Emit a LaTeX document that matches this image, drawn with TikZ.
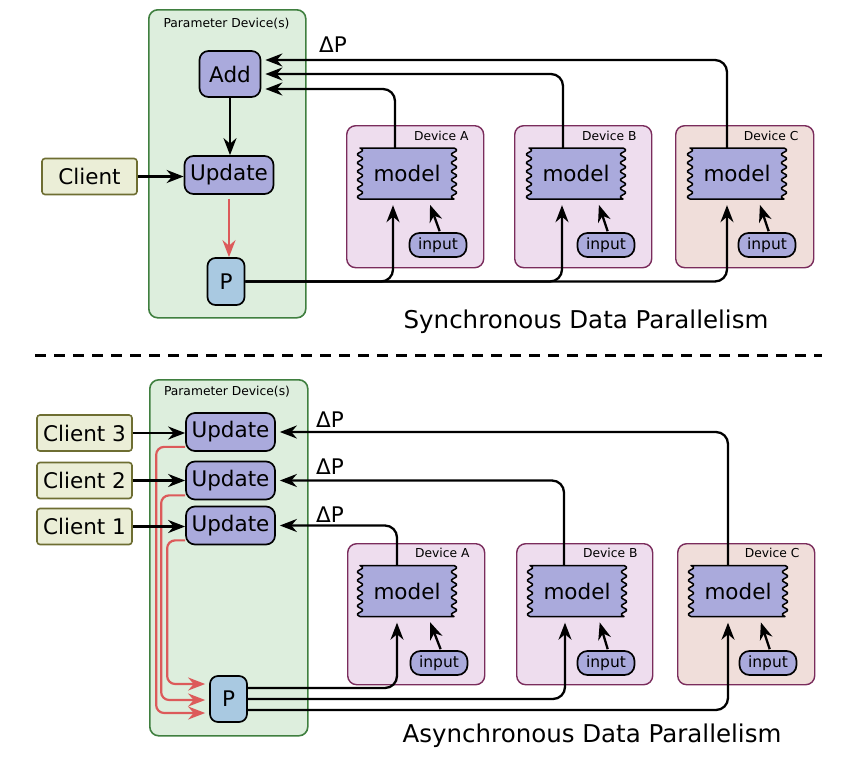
\documentclass[tikz,border=0pt]{standalone}
\usepackage{fontspec}
\setmainfont{DejaVu Sans}
\usetikzlibrary{arrows.meta,calc}
\definecolor{pdfill}{HTML}{DDEEDD}
\definecolor{pddraw}{HTML}{3F7F3F}
\definecolor{lavc}{HTML}{AAAADC}
\definecolor{pfill}{HTML}{A9C9E1}
\definecolor{clfill}{HTML}{EBEED7}
\definecolor{cldraw}{HTML}{6E6E32}
\definecolor{devab}{HTML}{EEDDEE}
\definecolor{devc}{HTML}{F0DEDA}
\definecolor{devdraw}{HTML}{7A2C5C}
\definecolor{redc}{HTML}{DC5A5A}
\newcommand\modelshape[2]{%
  \path[draw=black,line width=1.5pt,fill=lavc,line join=round]
    ({#1-44},{#2-25.5}) -- ({#1+44},{#2-25.5})
    -- plot[domain=0:51,samples=61,smooth] ({#1+47+2.6*sin(\x/8.5*360)},{#2-25.5+\x})
    -- ({#1-44},{#2+25.5})
    -- plot[domain=51:0,samples=61,smooth] ({#1-47+2.6*sin(\x/8.5*360)},{#2-25.5+\x})
    -- cycle;}
\begin{document}
\begin{tikzpicture}[x=1pt,y=-1pt,
  big/.style={font=\fontsize{21.5}{25}\selectfont},
  small/.style={font=\fontsize{12.3}{14}\selectfont},
  parambox/.style={draw=pddraw,fill=pdfill,line width=1.6pt,rounded corners=9pt,anchor=north west,inner sep=0pt},
  devbox/.style={draw=devdraw,line width=1.4pt,rounded corners=9pt,anchor=north west,inner sep=0pt},
  lav/.style={draw=black,line width=1.7pt,fill=lavc,rounded corners=9pt,inner sep=0pt,big},
  pnode/.style={draw=black,line width=1.7pt,fill=pfill,rounded corners=8pt,inner sep=0pt,big,minimum width=37pt,minimum height=47pt},
  client/.style={draw=cldraw,line width=1.6pt,fill=clfill,rounded corners=3pt,inner sep=0pt,big,minimum width=95pt,minimum height=36pt},
  modeltext/.style={inner sep=0pt,big,minimum width=96pt,minimum height=51pt},
  inputnode/.style={draw=black,line width=1.7pt,fill=lavc,rounded corners=10pt,inner sep=0pt,font=\fontsize{15.5}{18}\selectfont,minimum width=57pt,minimum height=24pt},
  arr/.style={line width=2.3pt,-{Stealth[length=17pt,width=13pt,inset=5.5pt]}},
  conn/.style={arr,rounded corners=12pt},
  redconn/.style={line width=2.2pt,draw=redc,rounded corners=8pt,-{Stealth[length=17pt,width=13pt,inset=5.5pt]}},
]
\useasboundingbox (0,0) rectangle (868,774);

% ================= Synchronous =================
\node[parambox,minimum width=157pt,minimum height=308pt] (pd1) at (148,9) {};
\node[small] (pd1l) at (226.5,24) {Parameter Device(s)};

\node[devbox,fill=devab,minimum width=137pt,minimum height=142pt] (dA1) at (346,125) {};
\node[devbox,fill=devab,minimum width=137pt,minimum height=142pt] (dB1) at (514,125) {};
\node[devbox,fill=devc,minimum width=138pt,minimum height=142pt] (dC1) at (675,125) {};
\node[small,anchor=east] (dA1l) at (472,136) {Device A};
\node[small,anchor=east] (dB1l) at (640,136) {Device B};
\node[small,anchor=east] (dC1l) at (802,136) {Device C};

\modelshape{407}{173.5}
\modelshape{576}{173.5}
\modelshape{737}{173.5}
\node[modeltext] (mA1) at (407,173.5) {model};
\node[modeltext] (mB1) at (576,173.5) {model};
\node[modeltext] (mC1) at (737,173.5) {model};
\node[inputnode] (iA1) at (438,245) {input};
\node[inputnode] (iB1) at (606,245) {input};
\node[inputnode] (iC1) at (767,245) {input};

\node[lav,minimum width=61pt,minimum height=46pt] (add) at (230,74) {Add};
\node[lav,minimum width=89pt,minimum height=38pt] (upd) at (229,175) {Update};
\node[client] (cl) at (89.5,176.5) {Client};
\node[pnode] (P1) at (226,281.5) {P};
\node[big] (dp1) at (333,45) {ΔP};

\draw[arr] (add.south) -- (add.south |- upd.north);
\draw[arr] (cl.east) -- (cl.east -| upd.west);
\draw[redconn,shorten <=4pt] (upd.south) -- (upd.south |- P1.north);

\draw[conn,shorten >=4pt] ([xshift=-10pt]mC1.north) |- ([yshift=14pt]add.east);
\draw[conn,shorten >=4pt] ([xshift=-13pt]mB1.north) |- (add.east);
\draw[conn,shorten >=4pt] ([xshift=-12pt]mA1.north) |- ([yshift=-15pt]add.east);

\draw[conn,shorten >=6pt] (P1.east) -| ([xshift=-14pt]mA1.south);
\draw[conn,shorten >=6pt] (P1.east) -| ([xshift=-14pt]mB1.south);
\draw[conn,shorten >=6pt] (P1.east) -| ([xshift=-10pt]mC1.south);

\draw[arr,shorten >=6pt,shorten <=1pt] ([xshift=2pt]iA1.north) -- ([xshift=21pt]mA1.south);
\draw[arr,shorten >=6pt,shorten <=1pt] ([xshift=2pt]iB1.north) -- ([xshift=21pt]mB1.south);
\draw[arr,shorten >=6pt,shorten <=1pt] ([xshift=2pt]iC1.north) -- ([xshift=21pt]mC1.south);

\node[font=\fontsize{24.5}{28}\selectfont] (t1) at (586,322) {Synchronous Data Parallelism};

% ================= dashed separator =================
\draw[line width=3pt,dash pattern=on 11pt off 8pt] (35,355) -- (822,355);

% ================= Asynchronous =================
\node[parambox,minimum width=158pt,minimum height=356pt] (pd2) at (149,379) {};
\node[small] (pd2l) at (227,392) {Parameter Device(s)};

\node[devbox,fill=devab,minimum width=137pt,minimum height=141pt] (dA2) at (347,543) {};
\node[devbox,fill=devab,minimum width=136pt,minimum height=141pt] (dB2) at (516,543) {};
\node[devbox,fill=devc,minimum width=137pt,minimum height=141pt] (dC2) at (677,543) {};
\node[small,anchor=east] (dA2l) at (473,553) {Device A};
\node[small,anchor=east] (dB2l) at (641,553) {Device B};
\node[small,anchor=east] (dC2l) at (803,553) {Device C};

\modelshape{407}{591}
\modelshape{577}{591}
\modelshape{738}{591}
\node[modeltext] (mA2) at (407,591) {model};
\node[modeltext] (mB2) at (577,591) {model};
\node[modeltext] (mC2) at (738,591) {model};
\node[inputnode] (iA2) at (439,663) {input};
\node[inputnode] (iB2) at (606,663) {input};
\node[inputnode] (iC2) at (768,663) {input};

\node[lav,minimum width=89pt,minimum height=38pt] (u3) at (230.5,432) {Update};
\node[lav,minimum width=89pt,minimum height=38pt] (u2) at (230.5,480.5) {Update};
\node[lav,minimum width=89pt,minimum height=38pt] (u1) at (230.5,525.5) {Update};
\node[client] (c3) at (84.5,433) {Client 3};
\node[client] (c2) at (84.5,480.5) {Client 2};
\node[client] (c1) at (84.5,526.5) {Client 1};
\node[pnode,minimum height=46pt] (P2) at (228.5,699) {P};
\node[big] (dp3) at (330,420) {ΔP};
\node[big] (dp2) at (330,467) {ΔP};
\node[big] (dp1b) at (330,515) {ΔP};

\draw[redconn] ([yshift=5pt]u3.south west) -| ([xshift=-53pt,yshift=-14pt]P2.west) -- ([xshift=-4pt,yshift=-14pt]P2.west);
\draw[redconn] ([yshift=5pt]u2.south west) -| ([xshift=-48pt,yshift=-1pt]P2.west) -- ([xshift=-4pt,yshift=-1pt]P2.west);
\draw[redconn] ([yshift=5pt]u1.south west) -| ([xshift=-42pt,yshift=15pt]P2.west) -- ([xshift=-4pt,yshift=15pt]P2.west);

\draw[arr] (c3.east) -- (c3.east -| u3.west);
\draw[arr] (c2.east) -- (c2.east -| u2.west);
\draw[arr] (c1.east) -- (c1.east -| u1.west);

\draw[conn,shorten >=4pt] ([xshift=-10pt]mC2.north) |- (u3.east);
\draw[conn,shorten >=4pt] ([xshift=-13pt]mB2.north) |- (u2.east);
\draw[conn,shorten >=4pt] ([xshift=-10pt]mA2.north) |- (u1.east);

\draw[conn,shorten >=6pt] ([yshift=11pt]P2.east) -| ([xshift=-10pt]mA2.south);
\draw[conn,shorten >=6pt] (P2.east) -| ([xshift=-12pt]mB2.south);
\draw[conn,shorten >=6pt] ([yshift=-11pt]P2.east) -| ([xshift=-10pt]mC2.south);

\draw[arr,shorten >=6pt,shorten <=1pt] ([xshift=2pt]iA2.north) -- ([xshift=21pt]mA2.south);
\draw[arr,shorten >=6pt,shorten <=1pt] ([xshift=2pt]iB2.north) -- ([xshift=21pt]mB2.south);
\draw[arr,shorten >=6pt,shorten <=1pt] ([xshift=2pt]iC2.north) -- ([xshift=21pt]mC2.south);

\node[font=\fontsize{24.5}{28}\selectfont] (t2) at (592,736) {Asynchronous Data Parallelism};
\end{tikzpicture}
\end{document}
